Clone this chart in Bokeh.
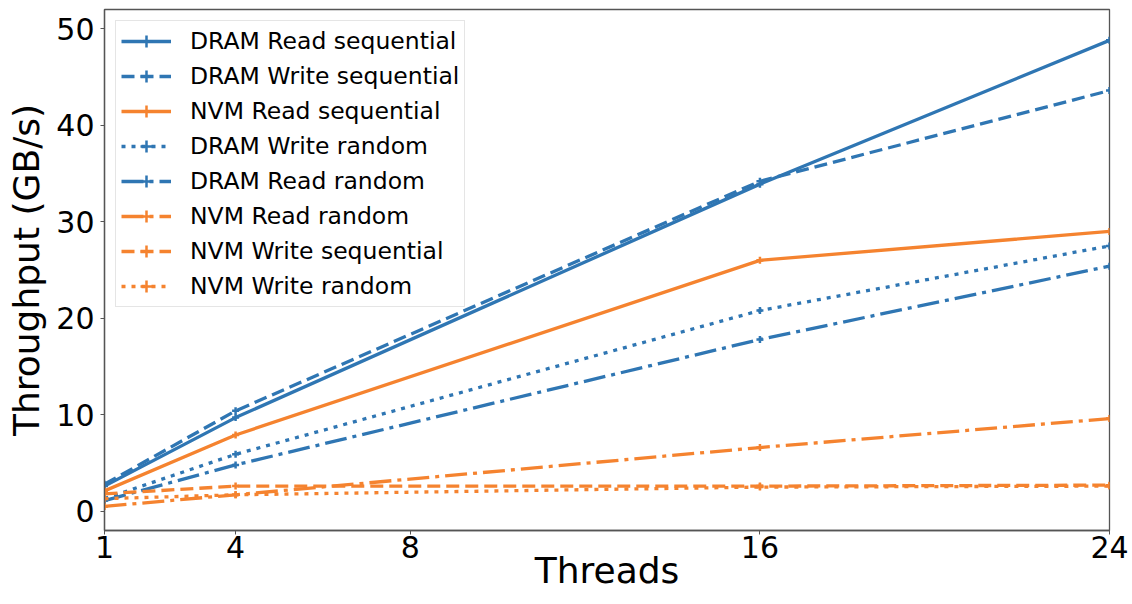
from bokeh.plotting import figure
from bokeh.models import FixedTicker, Legend, LegendItem, Range1d, ColumnDataSource
from bokeh.embed import file_html
from bokeh.resources import INLINE

threads = [1, 4, 16, 24]
x_ticks = [1, 4, 8, 16, 24]
y_ticks = [0, 10, 20, 30, 40, 50]

dram_read_seq = [2.6, 9.7, 33.9, 48.8]
dram_write_seq = [2.8, 10.4, 34.2, 43.6]
nvm_read_seq = [2.1, 7.9, 26.0, 29.0]
dram_write_rand = [1.3, 5.9, 20.8, 27.5]
dram_read_rand = [1.1, 4.8, 17.8, 25.4]
nvm_read_rand = [0.5, 1.7, 6.6, 9.6]
nvm_write_seq = [1.8, 2.6, 2.6, 2.7]
nvm_write_rand = [1.3, 1.7, 2.5, 2.6]

BLUE = "#2f76b3"
ORANGE = "#f5832f"
SOLID = "solid"
DASHED = "13 6"
DOTTED = "4 6"
DASHDOT = "22 6 4 6"

series = [
    ("DRAM Read sequential", dram_read_seq, BLUE, SOLID),
    ("DRAM Write sequential", dram_write_seq, BLUE, DASHED),
    ("NVM Read sequential", nvm_read_seq, ORANGE, SOLID),
    ("DRAM Write random", dram_write_rand, BLUE, DOTTED),
    ("DRAM Read random", dram_read_rand, BLUE, DASHDOT),
    ("NVM Read random", nvm_read_rand, ORANGE, DASHDOT),
    ("NVM Write sequential", nvm_write_seq, ORANGE, DASHED),
    ("NVM Write random", nvm_write_rand, ORANGE, DOTTED),
]

p = figure(width=1132, height=604, output_backend="svg", toolbar_location=None,
           x_range=Range1d(1, 24), y_range=Range1d(-2, 52),
           min_border_left=104, min_border_right=23, min_border_top=9, min_border_bottom=74)

items = []
for name, vals, color, dash in series:
    src = ColumnDataSource(dict(x=threads, y=vals))
    lr = p.line("x", "y", source=src, line_color=color, line_width=3.3, line_dash=dash)
    sr = p.scatter("x", "y", source=src, marker="cross", size=7,
                   line_color=color, line_width=2.5)
    items.append(LegendItem(label=name, renderers=[lr, sr]))

legend = Legend(items=items, location="top_left", margin=11, padding=5, spacing=5,
                glyph_width=50, glyph_height=30, label_height=30, label_standoff=19,
                label_text_font="DejaVu Sans", label_text_font_size="23.5px",
                label_text_color="black",
                border_line_color="#cccccc", border_line_width=1,
                background_fill_color="white", background_fill_alpha=0.8)
p.add_layout(legend)

p.grid.visible = False
p.outline_line_color = "#555555"
p.outline_line_width = 1.3

p.xaxis.ticker = FixedTicker(ticks=x_ticks)
p.yaxis.ticker = FixedTicker(ticks=y_ticks)
for ax in (p.xaxis, p.yaxis):
    ax.axis_line_color = "#555555"
    ax.axis_line_width = 1.3
    ax.major_tick_line_color = "#555555"
    ax.major_tick_out = 4
    ax.major_tick_in = 0
    ax.minor_tick_line_color = None
    ax.major_label_text_font = "DejaVu Sans"
    ax.major_label_text_font_size = "30px"
    ax.major_label_text_color = "black"
    ax.axis_label_text_font = "DejaVu Sans"
    ax.axis_label_text_font_size = "36px"
    ax.axis_label_text_font_style = "normal"
    ax.axis_label_text_color = "black"

p.xaxis.axis_label = "Threads"
p.yaxis.axis_label = "Throughput (GB/s)"
p.xaxis.major_label_standoff = 1
p.xaxis.axis_label_standoff = -11
p.yaxis.major_label_standoff = 6
p.yaxis.axis_label_standoff = 6

open("out.html", "w").write(file_html(p, INLINE))
